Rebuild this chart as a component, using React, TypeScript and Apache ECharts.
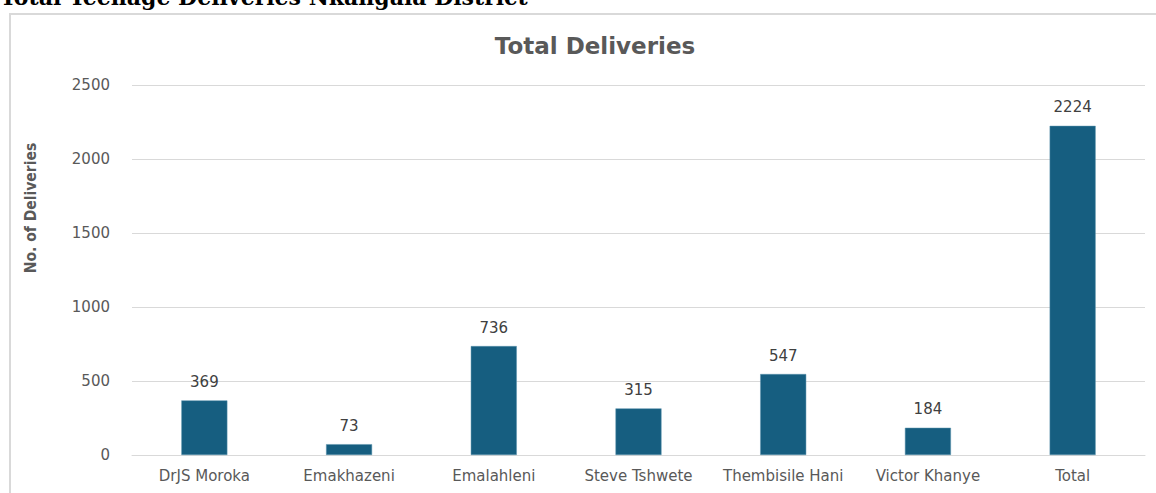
import React, { useEffect, useRef } from "react";
import * as echarts from "echarts";

const categories = ["DrJS Moroka", "Emakhazeni", "Emalahleni", "Steve Tshwete", "Thembisile Hani", "Victor Khanye", "Total"];
const deliveries = [369, 73, 736, 315, 547, 184, 2224];
const pageHeading = "Total Teenage Deliveries Nkangala District";
const chartTitle = "Total Deliveries";
const yAxisTitle = "No. of Deliveries";

export default function App() {
  const ref = useRef<HTMLDivElement>(null);
  useEffect(() => {
    if (!ref.current) return;
    const chart = echarts.init(ref.current, null, { renderer: "svg" });
    chart.setOption({
      animation: false,
      backgroundColor: "#ffffff",
      title: {
        text: chartTitle,
        left: 590,
        textAlign: "center",
        top: 29,
        textStyle: { fontFamily: "DejaVu Sans", fontWeight: "bold", fontSize: 23, color: "#595959" },
      },
      graphic: [
        {
          type: "rect",
          shape: { x: 10, y: 14, width: 1160, height: 500 },
          style: { fill: "none", stroke: "#d9d9d9", lineWidth: 2 },
          silent: true,
        },
        {
          type: "text",
          x: 0,
          y: 8,
          style: {
            text: pageHeading,
            fontFamily: "DejaVu Serif",
            fontWeight: "bold",
            fontSize: 22,
            fill: "#000000",
            textVerticalAlign: "bottom",
          },
        },
        {
          type: "text",
          x: 31,
          y: 208,
          rotation: Math.PI / 2,
          style: {
            text: yAxisTitle,
            fontFamily: "DejaVu Sans Condensed",
            fontWeight: "bold",
            fontSize: 15.5,
            fill: "#595959",
            textAlign: "center",
            textVerticalAlign: "middle",
          },
        },
      ],
      grid: { left: 132, right: 11, top: 85, bottom: 38, containLabel: false },
      xAxis: {
        type: "category",
        data: categories,
        axisLine: { lineStyle: { color: "#d9d9d9", width: 1 } },
        axisTick: { show: false },
        axisLabel: { color: "#595959", fontSize: 15, fontFamily: "DejaVu Sans", margin: 13, interval: 0 },
      },
      yAxis: {
        type: "value",
        min: 0,
        max: 2500,
        interval: 500,
        axisLine: { show: false },
        axisTick: { show: false },
        splitLine: { lineStyle: { color: "#d9d9d9", width: 1 } },
        axisLabel: {
          color: "#595959",
          fontSize: 15,
          fontFamily: "DejaVu Sans",
          margin: 22,
          formatter: (v: number) => String(v),
        },
      },
      series: [
        {
          type: "bar",
          data: deliveries,
          barWidth: 46,
          itemStyle: { color: "#165e80", borderColor: "#5a92ad", borderWidth: 0.5 },
          label: {
            show: true,
            position: "top",
            distance: 11,
            color: "#404040",
            fontSize: 15,
            fontFamily: "DejaVu Sans",
          },
        },
      ],
    });
    return () => chart.dispose();
  }, []);
  return (
    <div style={{ position: "fixed", left: 0, top: 0, width: 1156, height: 493, overflow: "hidden" }}>
      <div ref={ref} style={{ width: 1156, height: 493 }} />
    </div>
  );
}
